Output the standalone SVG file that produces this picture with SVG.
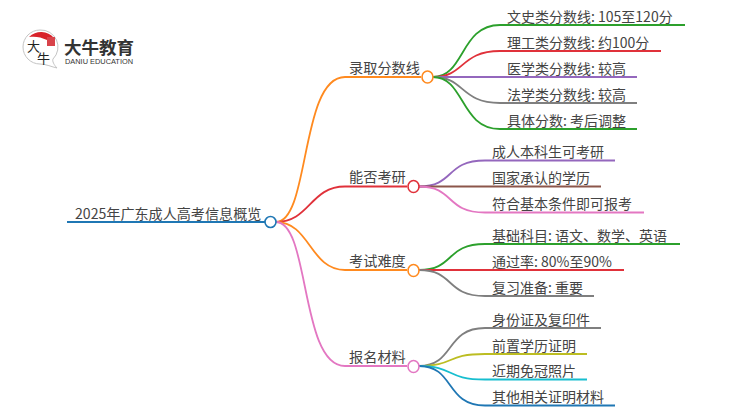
<svg xmlns="http://www.w3.org/2000/svg" width="750" height="410" viewBox="0 0 750 410">
<style>
text{font-family:"Noto Sans CJK SC","Noto Sans",sans-serif;font-size:14px;fill:#444}
.c{fill:none;stroke-width:1.8}
.n{fill:#fff;stroke-width:1.6}
.o{stroke:#ff8a1f}.r{stroke:#e0313a}.g{stroke:#2ca02c}.p{stroke:#9467bd}.y{stroke:#7f7f7f}.b{stroke:#8c564b}.k{stroke:#e377c2}.l{stroke:#bcbd22}.t{stroke:#17becf}.u{stroke:#1f77b4}
</style>
<rect width="750" height="410" fill="#fff"/>
<g id="connectors">
<path class="c u" d="M67 222H270" style="stroke-width:2.2"/>
<path class="c o" d="M276 222C310 222 300 77 345 77H421"/>
<path class="c r" d="M276 222C310 222 310 186.500 345 186.500H407"/>
<path class="c o" d="M276 222C310 222 310 270 345 270H407"/>
<path class="c k" d="M276 222C310 222 300 366 345 366H407"/>
<path class="c g" d="M433 77C465 77 460 25 500 25H685"/>
<path class="c r" d="M433 77C465 77 460 51 500 51H661"/>
<path class="c p" d="M433 77H637"/>
<path class="c y" d="M433 77C465 77 460 103 500 103H637"/>
<path class="c g" d="M433 77C465 77 460 129 500 129H637"/>
<path class="c p" d="M419 186.500C455 186.500 445 160.500 485 160.500H615"/>
<path class="c b" d="M419 186.500H601"/>
<path class="c k" d="M419 186.500C455 186.500 445 212.500 485 212.500H644"/>
<path class="c g" d="M419 270C455 270 445 244 485 244H680"/>
<path class="c r" d="M419 270H624"/>
<path class="c y" d="M419 270C455 270 445 296 485 296H594"/>
<path class="c y" d="M419 366C455 366 445 328 485 328H601"/>
<path class="c l" d="M419 366C455 366 445 354 485 354H587"/>
<path class="c t" d="M419 366C455 366 445 379.500 485 379.500H587"/>
<path class="c u" d="M419 366C455 366 445 405.500 485 405.500H615"/>
</g>
<g id="logo">
<path d="M40 30A17 17 0 0 0 40 64C46 64 52 67 57 68C54 65 52 61 53 59A17 17 0 0 0 40 30Z" fill="#fff" stroke="#c4c4c4"/>
<path d="M29 37A17 17 0 0 1 54 38L47 40C41 37 35 36 29 37Z" fill="#d8232a"/>
<rect x="47" y="37" width="8" height="9" fill="#d8434a"/>
<text x="27" y="51" style="font-size:13px;fill:#222">大</text>
<text x="37" y="63" style="font-size:13px;fill:#222">牛</text>
<text x="64" y="54" style="font-size:17.500px;font-weight:700;fill:#333">大牛教育</text>
<text x="65" y="64" style="font-size:7.400px;fill:#333;font-family:'Liberation Sans',sans-serif">DANIU EDUCATION</text>
</g>
<g id="root"><text x="75" y="219" style="font-size:14.100px">2025年广东成人高考信息概览</text><circle class="n u" cx="270.500" cy="222" r="5.500"/></g>
<g id="n1"><text x="349" y="73" style="font-size:14.200px">录取分数线</text><ellipse class="n o" cx="427.500" cy="77" rx="5.500" ry="6"/></g>
<g id="n2"><text x="349" y="182" style="font-size:14.200px">能否考研</text><ellipse class="n r" cx="413.500" cy="186.500" rx="5.500" ry="6"/></g>
<g id="n3"><text x="349" y="266" style="font-size:14.200px">考试难度</text><ellipse class="n o" cx="413.500" cy="270.500" rx="5.500" ry="6"/></g>
<g id="n4"><text x="349" y="362" style="font-size:14.200px">报名材料</text><ellipse class="n k" cx="413.500" cy="366.500" rx="5.500" ry="6"/></g>
<g id="l1"><text x="507" y="22">文史类分数线: 105至120分</text></g>
<g id="l2"><text x="507" y="48">理工类分数线: 约100分</text></g>
<g id="l3"><text x="507" y="74">医学类分数线: 较高</text></g>
<g id="l4"><text x="507" y="100">法学类分数线: 较高</text></g>
<g id="l5"><text x="507" y="126">具体分数: 考后调整</text></g>
<g id="l6"><text x="492" y="157">成人本科生可考研</text></g>
<g id="l7"><text x="492" y="183">国家承认的学历</text></g>
<g id="l8"><text x="492" y="209">符合基本条件即可报考</text></g>
<g id="l9"><text x="492" y="241">基础科目: 语文、数学、英语</text></g>
<g id="l10"><text x="492" y="267">通过率: 80%至90%</text></g>
<g id="l11"><text x="492" y="293">复习准备: 重要</text></g>
<g id="l12"><text x="492" y="325">身份证及复印件</text></g>
<g id="l13"><text x="492" y="350.500">前置学历证明</text></g>
<g id="l14"><text x="492" y="376">近期免冠照片</text></g>
<g id="l15"><text x="492" y="402">其他相关证明材料</text></g>
</svg>
